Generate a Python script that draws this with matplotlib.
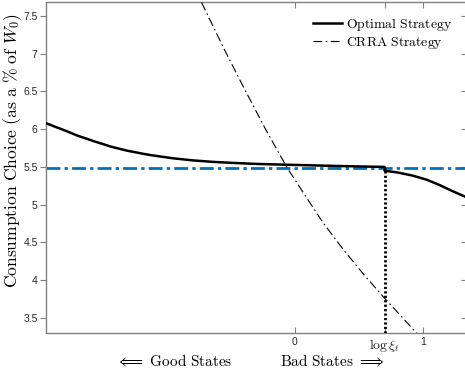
import matplotlib
matplotlib.use("Agg")
import matplotlib.pyplot as plt

plt.rcParams['mathtext.fontset'] = 'cm'
plt.rcParams['font.family'] = ['Liberation Sans', 'DejaVu Sans']

# Optimal strategy (left branch, then jump at log xi_t, right branch)
opt_x = [-1.945, -1.87, -1.80, -1.70, -1.63, -1.57, -1.50, -1.44, -1.37, -1.31, -1.24, -1.18,
         -1.12, -1.06, -0.95, -0.80, -0.64, -0.47,
         -0.30, -0.13, 0.04, 0.20, 0.35, 0.52, 0.70,
         0.70, 0.80, 0.92, 1.03, 1.13, 1.23, 1.344]
opt_y = [6.08, 6.03, 5.985, 5.915, 5.875, 5.84, 5.803, 5.77, 5.74, 5.715, 5.692, 5.672,
         5.655, 5.64, 5.614, 5.587, 5.567, 5.552,
         5.54, 5.532, 5.525, 5.518, 5.512, 5.506, 5.50,
         5.45, 5.427, 5.385, 5.33, 5.26, 5.18, 5.095]

# CRRA strategy
crra_x = [-0.73, -0.55, -0.40, -0.23, -0.065, 0.08, 0.22, 0.38, 0.54, 0.69, 0.82, 0.95]
crra_y = [7.68, 7.05, 6.55, 6.00, 5.50, 5.12, 4.76, 4.40, 4.07, 3.78, 3.54, 3.30]

flat_level = 5.49
log_xi = 0.70

xticks = [0, log_xi, 1]
xticklabels = ['0', r'$\log\xi_t$', '1']
yticks = [3.5, 4, 4.5, 5, 5.5, 6, 6.5, 7, 7.5]
yticklabels = ['3.5', '4', '4.5', '5', '5.5', '6', '6.5', '7', '7.5']

W, H = 465, 376
fig = plt.figure(figsize=(W / 100, H / 100), dpi=100)
ax = fig.add_axes([46 / W, (H - 333) / H, (467 - 46) / W, (333 - 2) / H])

ax.set_xlim(-1.945, 1.344)
ax.set_ylim(3.30, 7.685)

ax.axhline(flat_level, color='#0072BD', lw=2.0, ls=(0, (5, 1.5, 1.2, 1.5)), zorder=2)
ax.plot(opt_x, opt_y, color='black', lw=1.8, label='Optimal Strategy', zorder=3)
ax.plot(crra_x, crra_y, color='black', lw=0.8, ls=(0, (8, 3, 1.5, 3)), label='CRRA Strategy', zorder=3)
ax.plot([log_xi, log_xi], [3.30, flat_level], color='black', lw=2.0, ls=(0, (0.8, 0.8)), zorder=3)

ax.set_xticks(xticks)
ax.set_xticklabels(xticklabels)
ax.set_yticks(yticks)
ax.set_yticklabels(yticklabels)
ax.tick_params(axis='x', direction='in', top=True, length=4, colors='#808080', labelcolor='#262626', labelsize=7.5, pad=3)
ax.tick_params(axis='y', direction='out', right=False, length=4, colors='#808080', labelcolor='#262626', labelsize=7.5, pad=2)
ax.get_xticklabels()[1].set_fontsize(10)
for t in ax.yaxis.get_major_ticks():
    t.tick2line.set_visible(True)
    t.tick2line.set_marker(matplotlib.lines.TICKLEFT)
    t.tick2line.set_markersize(4)
    t.tick2line.set_markeredgecolor('#808080')
for s in ax.spines.values():
    s.set_color('#808080')
    s.set_linewidth(1.0)

fig.text(13 / W, 1 - 151 / H, r'$\mathrm{Consumption\ Choice\ (as\ a\ \%\ of\ }W_0\mathrm{)}$',
         rotation=90, ha='center', va='center', fontsize=12.6)

fig.text(174 / W, 1 - 361 / H, r'$\Longleftarrow\ \mathrm{Good\ States}$', ha='center', va='center', fontsize=11)
fig.text(332 / W, 1 - 361 / H, r'$\mathrm{Bad\ States}\ \Longrightarrow$', ha='center', va='center', fontsize=11)

leg = ax.legend(loc='upper right', frameon=False, handlelength=2.1, handletextpad=0.3,
                borderaxespad=0.0, borderpad=0.0, labelspacing=0.12,
                bbox_to_anchor=((452 - 46) / 421, 1 - 14 / 331),
                prop={'size': 9.9})
for t in leg.get_texts():
    t.set_text(r'$\mathrm{' + t.get_text().replace(' ', r'\ ') + '}$')

fig.savefig('out.png', dpi=100)
